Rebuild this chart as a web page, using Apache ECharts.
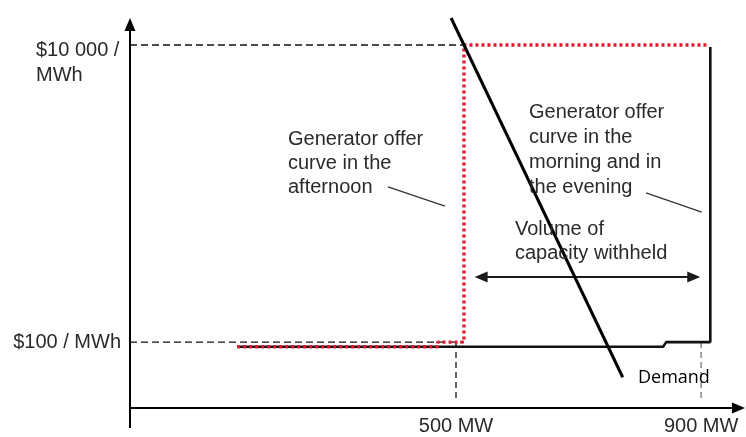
<!DOCTYPE html>
<html>
<head>
<meta charset="utf-8">
<script src="https://cdn.jsdelivr.net/npm/echarts@6/dist/echarts.min.js"></script>
<style>html,body{margin:0;padding:0;background:#fff}#c{width:746px;height:437px}</style>
</head>
<body>
<div id="c"></div>
<script>
// ---- data (MW on x, $/MWh on a log y scale; schematic values) ----
const xTickValues = [500, 900];
const xTickLabels = ['500 MW', '900 MW'];
const yTickValues = [100, 10000];
const yTickLabels = ['$100 / MWh', '$10 000 /\nMWh'];

const afternoonOfferMW    = [143, 470, 470, 513, 513, 911];
const afternoonOfferPrice = [93, 93, 100, 100, 10000, 10000];

const dayOfferMW    = [143, 838, 843, 915, 915];
const dayOfferPrice = [93, 93, 100, 100, 9700];

const demandMW    = [492, 772];
const demandPrice = [15200, 58];

const withheldMW    = [541, 888];
const withheldPrice = 274;

const afternoonLeaderMW    = [389, 482];
const afternoonLeaderPrice = [1107, 824];
const dayLeaderMW    = [810, 901];
const dayLeaderPrice = [1009, 751];

const annotations = {
  afternoon: 'Generator offer\ncurve in the\nafternoon',
  day: 'Generator offer\ncurve in the\nmorning and in\nthe evening',
  withheld: 'Volume of\ncapacity withheld',
  demand: 'Demand'
};

// axis extents
const xMin = -32, xMax = 961;
const yMin = 36, yMax = 13740;
const xStubMW = -92, yStubPrice = 26.4;
const guideLowPrice = 39.5;

// ---- build ----
const pairs = (xs, ys) => xs.map((x, i) => [x, ys[i]]);
const FONT = '"Liberation Sans", Arial, sans-serif';
const TXT = '#2a2a2a';

const chart = echarts.init(document.getElementById('c'), null, {renderer: 'canvas'});

function lineSeries(name, data, style, z) {
  return {
    name, type: 'line', data, symbol: 'none', clip: false, silent: true,
    animation: false, lineStyle: style, z: z || 2
  };
}

const option = {
  animation: false,
  backgroundColor: '#fff',
  grid: {left: 130, right: 7.5, top: 24.5, bottom: 29, containLabel: false, outerBoundsMode: 'none'},
  xAxis: {
    type: 'value', min: xMin, max: xMax,
    splitLine: {show: false}, axisTick: {show: false},
    axisLine: {show: true, onZero: false, symbol: ['none', 'triangle'], symbolSize: [11, 13],
      lineStyle: {color: '#000', width: 2}},
    axisLabel: {
      customValues: xTickValues, margin: 8,
      color: TXT, fontSize: 20, fontFamily: FONT,
      formatter: v => xTickLabels[xTickValues.indexOf(v)] || ''
    }
  },
  yAxis: {
    type: 'log', min: yMin, max: yMax, logBase: 10,
    splitLine: {show: false}, axisTick: {show: false},
    axisLine: {show: true, onZero: false, symbol: ['none', 'triangle'], symbolSize: [11, 13],
      lineStyle: {color: '#000', width: 2}},
    axisLabel: {
      customValues: yTickValues, margin: 9,
      color: TXT, fontSize: 20, fontFamily: FONT,
      formatter: v => {
        let idx = -1;
        yTickValues.forEach((t, i) => { if (Math.abs(t - v) / t < 1e-6) idx = i; });
        if (idx < 0) return '';
        const parts = yTickLabels[idx].split('\n');
        if (parts.length === 1) return '{a|' + parts[0] + '}';
        return '{s| }\n' + parts.map(p => '{b|' + p + '}').join('\n');
      },
      rich: {
        a: {fontSize: 20, fontFamily: FONT, color: TXT, lineHeight: 25},
        b: {fontSize: 20, fontFamily: FONT, color: TXT, lineHeight: 25, width: 85, align: 'left'},
        s: {fontSize: 6, lineHeight: 35}
      }
    }
  },
  series: [
    // axis stubs beyond the origin
    lineSeries('xStub', [[xStubMW, yMin], [xMin, yMin]], {color: '#000', width: 2}, 1),
    lineSeries('yStub', [[xMin, yMin], [xMin, yStubPrice]], {color: '#000', width: 2}, 1),
    // dashed guides
    lineSeries('guide10000', [[xMin, yTickValues[1]], [afternoonOfferMW[3], yTickValues[1]]],
      {color: '#111', width: 1.3, type: [7, 4]}, 1),
    lineSeries('guide100', [[xMin, yTickValues[0]], [afternoonOfferMW[3], yTickValues[0]]],
      {color: '#111', width: 1.3, type: [7, 4]}, 1),
    lineSeries('guide500', [[xTickValues[0], yTickValues[0]], [xTickValues[0], guideLowPrice]],
      {color: '#111', width: 1.3, type: [6, 4]}, 1),
    lineSeries('guide900', [[xTickValues[1], yTickValues[0]], [xTickValues[1], guideLowPrice]],
      {color: '#888', width: 1.5, type: [6, 4]}, 1),
    // offer curves
    lineSeries('Generator offer (morning/evening)', pairs(dayOfferMW, dayOfferPrice),
      {color: '#111', width: 2.6}, 3),
    lineSeries('Generator offer (afternoon)', pairs(afternoonOfferMW, afternoonOfferPrice),
      {color: '#e3192e', width: 3.4, type: [3, 3], cap: 'butt'}, 4),
    // leader lines
    lineSeries('leaderA', pairs(afternoonLeaderMW, afternoonLeaderPrice), {color: '#333', width: 1.3}, 3),
    lineSeries('leaderB', pairs(dayLeaderMW, dayLeaderPrice), {color: '#333', width: 1.3}, 3),
    // withheld double arrow
    {
      name: 'withheld', type: 'line', data: [], symbol: 'none', silent: true, z: 3,
      markLine: {
        silent: true, animation: false,
        symbol: ['triangle', 'triangle'], symbolSize: [11, 13],
        label: {show: false},
        lineStyle: {color: '#1a1a1a', width: 2, type: 'solid'},
        data: [[{coord: [withheldMW[0], withheldPrice]}, {coord: [withheldMW[1], withheldPrice]}]]
      }
    },
    // demand
    lineSeries('Demand', pairs(demandMW, demandPrice), {color: '#000', width: 3}, 6)
  ],
  graphic: [
    {type: 'text', left: 288, top: 127, z: 10, style: {text: annotations.afternoon, font: '20px ' + FONT, fill: TXT, lineHeight: 24}},
    {type: 'text', left: 529, top: 100, z: 10, style: {text: annotations.day, font: '20px ' + FONT, fill: TXT, lineHeight: 25}},
    {type: 'text', left: 515, top: 217, z: 10, style: {text: annotations.withheld, font: '20px ' + FONT, fill: TXT, lineHeight: 24}},
    {type: 'text', left: 638, top: 367, z: 10, style: {text: annotations.demand, font: '18px "Open Sans", sans-serif', fill: '#000', lineHeight: 22}}
  ]
};
chart.setOption(option);
</script>
</body>
</html>
